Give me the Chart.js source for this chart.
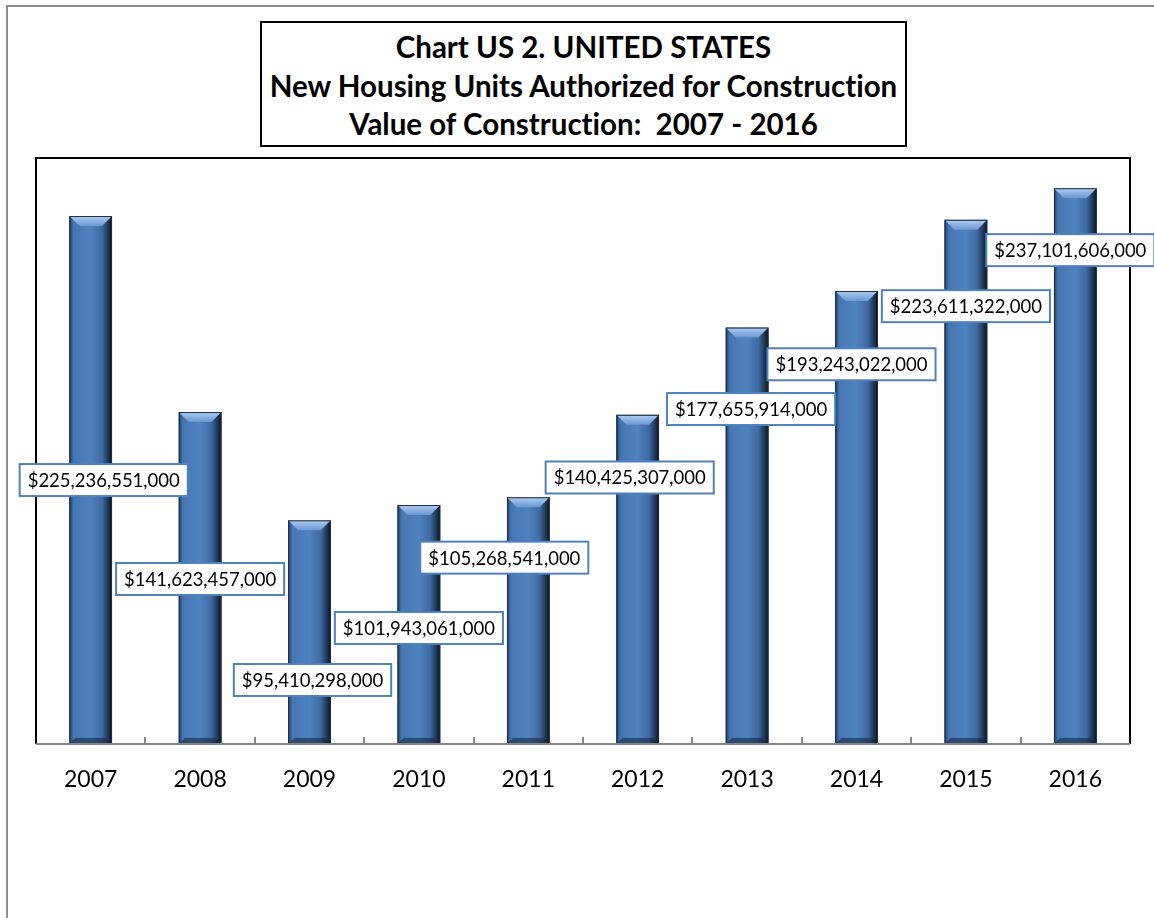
<!DOCTYPE html>
<html>
<head>
<meta charset="utf-8">
<script src="https://cdn.jsdelivr.net/npm/chart.js@4.4.1/dist/chart.umd.min.js"></script>
<style>
  html, body { margin: 0; padding: 0; background: #fff; }
  #wrap { position: relative; width: 1154px; height: 918px; overflow: hidden; }
  #frame { position: absolute; left: 6px; top: 5px; width: 1200px; height: 1000px;
           border: 2px solid #8c8c8c; box-sizing: border-box; pointer-events: none; }
  #titleBox { position: absolute; left: 260px; top: 21px; width: 647px; height: 126px;
              border: 2px solid #000; box-sizing: border-box; background: #fff;
              font-family: Lato, "Open Sans", sans-serif; font-weight: bold; font-size: 29.5px;
              font-variant-ligatures: none;
              text-align: center; line-height: 38.5px; padding-top: 5px; color: #000;
              white-space: nowrap; }
  #chart { position: absolute; left: 0; top: 0; }
</style>
</head>
<body>
<div id="wrap">
  <canvas id="chart" width="1154" height="918"></canvas>
  <div id="frame"></div>
  <div id="titleBox">Chart US 2. UNITED STATES<br>New Housing Units Authorized for Construction<br>Value of Construction:&nbsp; 2007 - 2016</div>
</div>
<script>
// años y valor de construcción (dólares)
const years = ['2007','2008','2009','2010','2011','2012','2013','2014','2015','2016'];
const values = [225236551000, 141623457000, 95410298000, 101943061000, 105268541000,
                140425307000, 177655914000, 193243022000, 223611322000, 237101606000];

// dónde va cada etiqueta: altura en unidades del eje y, desplazamiento horizontal en px
const labelAt = [112.6e9, 70.4e9, 27.3e9, 49.5e9, 79.5e9, 113.7e9, 142.9e9, 162e9, 186.8e9, 210.7e9];
const labelDx = [13, 0, 3, 0, -24, -8, 4, -5, 0, -5];

const fmtMoney = v => '$' + v.toLocaleString('en-US');

// barras con bisel (estilo Excel)
const bevelBars = {
  id: 'bevelBars',
  afterDatasetsDraw(chart) {
    const ctx = chart.ctx;
    chart.getDatasetMeta(0).data.forEach(bar => {
      const p = bar.getProps(['x', 'y', 'base', 'width'], true);
      const x0 = p.x - p.width / 2, x1 = p.x + p.width / 2;
      const top = p.y, bot = p.base, b = 10;
      ctx.save();
      const g = ctx.createLinearGradient(x0, 0, x1, 0);
      g.addColorStop(0, '#253f63');
      g.addColorStop(0.1, '#4677b3');
      g.addColorStop(0.5, '#4f82c0');
      g.addColorStop(0.76, '#3f6aa3');
      g.addColorStop(0.92, '#1d324e');
      g.addColorStop(1, '#0a111d');
      ctx.fillStyle = g;
      ctx.fillRect(x0, top, p.width, bot - top);
      // bisel superior
      const gt = ctx.createLinearGradient(0, top, 0, top + b);
      gt.addColorStop(0, '#b0cdf3');
      gt.addColorStop(1, '#6a97d2');
      ctx.fillStyle = gt;
      ctx.beginPath();
      ctx.moveTo(x0, top); ctx.lineTo(x1, top);
      ctx.lineTo(x1 - b, top + b); ctx.lineTo(x0 + b, top + b);
      ctx.closePath(); ctx.fill();
      // bisel inferior
      ctx.fillStyle = 'rgba(20,34,56,0.55)';
      ctx.beginPath();
      ctx.moveTo(x0, bot); ctx.lineTo(x1, bot);
      ctx.lineTo(x1 - 6, bot - 6); ctx.lineTo(x0 + 6, bot - 6);
      ctx.closePath(); ctx.fill();
      ctx.strokeStyle = '#1c2c44';
      ctx.lineWidth = 1;
      ctx.strokeRect(x0 + 0.5, top + 0.5, p.width - 1, bot - top - 1);
      ctx.restore();
    });
  }
};

// marco del área de trazado, eje x gris y marcas hacia dentro
const plotFrame = {
  id: 'plotFrame',
  afterDraw(chart) {
    const ctx = chart.ctx, a = chart.chartArea, xs = chart.scales.x;
    ctx.save();
    ctx.strokeStyle = '#000';
    ctx.lineWidth = 2;
    ctx.beginPath();
    ctx.moveTo(a.left, a.bottom); ctx.lineTo(a.left, a.top);
    ctx.lineTo(a.right, a.top); ctx.lineTo(a.right, a.bottom);
    ctx.stroke();
    ctx.strokeStyle = '#868686';
    ctx.beginPath();
    ctx.moveTo(a.left, a.bottom); ctx.lineTo(a.right, a.bottom);
    const half = (xs.getPixelForValue(1) - xs.getPixelForValue(0)) / 2;
    for (let i = 0; i < years.length - 1; i++) {
      const x = Math.round(xs.getPixelForValue(i) + half);
      ctx.moveTo(x, a.bottom); ctx.lineTo(x, a.bottom - 7);
    }
    ctx.stroke();
    ctx.restore();
  }
};

// etiquetas de datos en recuadro
const valueBoxes = {
  id: 'valueBoxes',
  afterDraw(chart) {
    const ctx = chart.ctx, xs = chart.scales.x, ys = chart.scales.y;
    ctx.save();
    ctx.font = '18.5px Lato, "Open Sans", sans-serif';
    ctx.textAlign = 'center';
    ctx.textBaseline = 'middle';
    values.forEach((v, i) => {
      const txt = fmtMoney(v);
      const cx = xs.getPixelForValue(i) + labelDx[i];
      const cy = ys.getPixelForValue(labelAt[i]);
      const w = ctx.measureText(txt).width + 16, h = 32;
      ctx.fillStyle = '#fff';
      ctx.fillRect(cx - w / 2, cy - h / 2, w, h);
      ctx.strokeStyle = '#4f81bd';
      ctx.lineWidth = 2;
      ctx.strokeRect(cx - w / 2, cy - h / 2, w, h);
      ctx.fillStyle = '#000';
      ctx.fillText(txt, cx, cy + 1);
    });
    ctx.restore();
  }
};

new Chart(document.getElementById('chart'), {
  type: 'bar',
  data: {
    labels: years,
    datasets: [{
      data: values,
      backgroundColor: '#4f81bd',
      borderWidth: 0,
      categoryPercentage: 1,
      barPercentage: 0.39
    }]
  },
  options: {
    responsive: false,
    animation: false,
    layout: { padding: { left: 36, right: 24, top: 158, bottom: 0 } },
    plugins: { legend: { display: false }, tooltip: { enabled: false } },
    scales: {
      x: {
        grid: { display: false, drawTicks: false },
        border: { display: false },
        ticks: { color: '#000', padding: 22, font: { family: 'Lato, "Open Sans", sans-serif', size: 23 } },
        afterFit(scale) { scale.height = 918 - 744; }
      },
      y: {
        display: false,
        min: 0,
        max: 250e9
      }
    }
  },
  plugins: [bevelBars, plotFrame, valueBoxes]
});
</script>
</body>
</html>
